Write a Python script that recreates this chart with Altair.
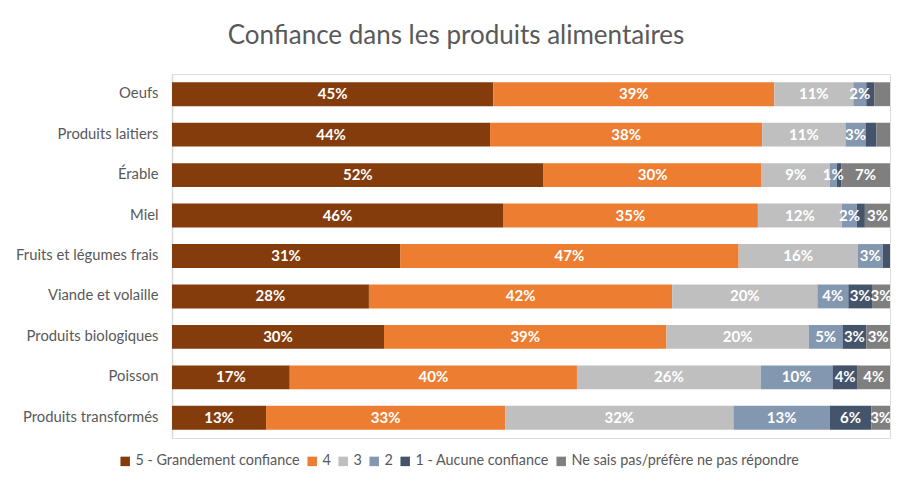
import altair as alt
import pandas as pd

categories = ["Oeufs", "Produits laitiers", "Érable", "Miel", "Fruits et légumes frais",
              "Viande et volaille", "Produits biologiques", "Poisson", "Produits transformés"]
levels = ["5 - Grandement confiance", "4", "3", "2", "1 - Aucune confiance",
          "Ne sais pas/préfère ne pas répondre"]
colors = ["#843C0C", "#ED7D31", "#BFBFBF", "#8497B0", "#44546A", "#7F7F7F"]

v5 = [44.7, 44.3, 51.8, 46.1, 31.8, 27.4, 29.5, 16.4, 13.1]
v4 = [39.1, 37.9, 30.4, 35.5, 47.2, 42.2, 39.3, 40.0, 33.3]
v3 = [11.0, 11.6, 9.5, 11.7, 16.6, 20.2, 19.8, 25.6, 31.8]
v2 = [1.8, 2.8, 1.0, 2.1, 3.5, 4.3, 4.7, 10.0, 13.4]
v1 = [1.1, 1.5, 0.6, 1.1, 1.0, 3.3, 3.3, 3.5, 5.8]
vn = [2.2, 1.9, 6.8, 3.5, 0.0, 2.5, 3.3, 4.5, 2.6]

l5 = ["45%", "44%", "52%", "46%", "31%", "28%", "30%", "17%", "13%"]
l4 = ["39%", "38%", "30%", "35%", "47%", "42%", "39%", "40%", "33%"]
l3 = ["11%", "11%", "9%", "12%", "16%", "20%", "20%", "26%", "32%"]
l2 = ["2%", "3%", "1%", "2%", "3%", "4%", "5%", "10%", "13%"]
l1 = ["", "", "", "", "", "3%", "3%", "4%", "6%"]
ln = ["", "", "7%", "3%", "", "3%", "3%", "4%", "3%"]

series = [v5, v4, v3, v2, v1, vn]
labels = [l5, l4, l3, l2, l1, ln]

rows = []
for k, (lev, vals, labs) in enumerate(zip(levels, series, labels)):
    for c, v, lab in zip(categories, vals, labs):
        rows.append({"cat": c, "level": lev, "order": k, "value": v, "label": lab})
df = pd.DataFrame(rows)

FONT = "Lato"

base = alt.Chart(df).transform_joinaggregate(
    total="sum(value)", groupby=["cat"]
).transform_calculate(
    pct="datum.value / datum.total * 100"
).transform_window(
    cum="sum(pct)", groupby=["cat"], sort=[{"field": "order"}],
    frame=[None, 0]
).transform_calculate(
    start="datum.cum - datum.pct",
    mid="datum.cum - datum.pct / 2"
)

yenc = alt.Y("cat:N", sort=categories, title=None,
             scale=alt.Scale(paddingInner=0.41, paddingOuter=0.205),
             axis=alt.Axis(labelFont=FONT, labelFontSize=14.8, labelColor="#595959",
                           labelPadding=14, ticks=False, domainColor="#D9D9D9",
                           domainWidth=1.5))

bars = base.mark_bar().encode(
    x=alt.X("start:Q", scale=alt.Scale(domain=[0, 100], nice=False), axis=None),
    x2="cum:Q",
    y=yenc,
    color=alt.Color("level:N", sort=levels,
                    scale=alt.Scale(domain=levels, range=colors),
                    legend=alt.Legend(title=None, orient="none", direction="horizontal",
                                      legendX=-54, legendY=380,
                                      symbolType="square", symbolSize=90,
                                      symbolStrokeWidth=0,
                                      labelFont=FONT, labelFontSize=14.4,
                                      labelColor="#595959", columnPadding=5,
                                      labelOffset=3, labelLimit=400)),
)

texts = base.mark_text(font=FONT, fontSize=15, fontWeight="bold", color="white").encode(
    x=alt.X("mid:Q"),
    y=alt.Y("cat:N", sort=categories),
    text="label:N",
)

chart = (bars + texts).properties(
    width=718, height=364,
    title=alt.TitleParams("Confiance dans les produits alimentaires", font=FONT,
                          fontSize=26, fontWeight="normal", color="#595959",
                          anchor="middle", dx=-75, offset=25),
    autosize=alt.AutoSizeParams(type="none"),
    padding={"left": 164, "top": 66, "right": 14, "bottom": 50},
).configure_view(stroke=None).configure(background="white")

chart.save("out.html", embed_options={"renderer": "svg", "actions": False})
